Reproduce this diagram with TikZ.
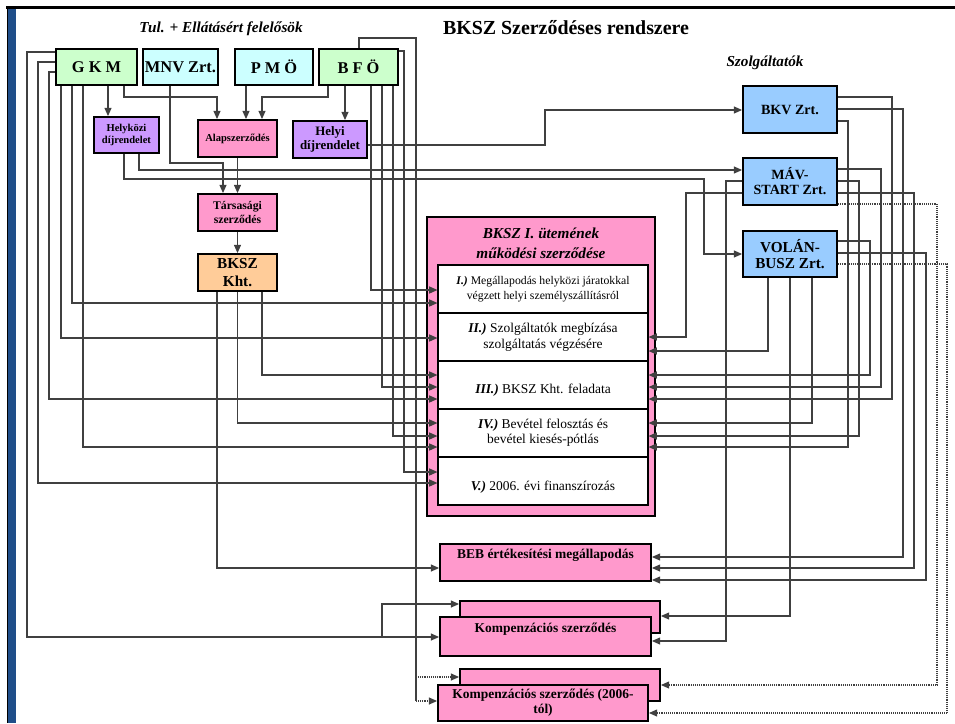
\documentclass[tikz,border=0pt]{standalone}
\usepackage{fontspec}
\setmainfont{Liberation Serif}
\usetikzlibrary{arrows.meta,positioning}

\definecolor{tulgreen}{RGB}{204,255,204}
\definecolor{tulcyan}{RGB}{204,255,255}
\definecolor{rendlila}{RGB}{204,153,255}
\definecolor{szerzpink}{RGB}{255,153,204}
\definecolor{khtorange}{RGB}{255,204,153}
\definecolor{szolgblue}{RGB}{153,204,255}
\definecolor{frameblue}{RGB}{31,78,137}

\newcommand{\pxu}{0.03cm}
\newcommand{\fs}[2]{\fontsize{#1}{#2}\selectfont}

\begin{document}
\begin{tikzpicture}[x=0.03cm, y=-0.03cm,
    >={Triangle[length=7pt,width=6pt]},
    every node/.append style={align=center},
    wh/.style 2 args={minimum width=#1*\pxu, minimum height=#2*\pxu},
    box/.style={draw, line width=1.6pt, inner sep=1pt},
    sec/.style={draw, line width=1pt, fill=white, inner sep=1pt, wh={210}{48}},
    conn/.style={draw=black!75, line width=0.9pt},
    arr/.style={conn, ->},
    pont/.style={dash pattern=on 0.8pt off 0.8pt}]
  \useasboundingbox (0,0) rectangle (955,723);

  % keret
  \fill[frameblue] (8,9) rectangle (16,723);
  \draw[line width=1.4pt] (7.5,6) -- (7.5,723);
  \draw[line width=2.6pt] (6,7.5) -- (955,7.5);

  \node[font=\bfseries\itshape\fs{13}{15}] (tultitle) at (221,29) {Tul. + Ellátásért felelősök};
  \node[font=\bfseries\fs{17}{19}] (title) at (566,28) {BKSZ Szerződéses rendszere};
  \node[font=\bfseries\itshape\fs{13}{15}] (szolgtitle) at (765,63) {Szolgáltatók};

  % tulajdonosok
  \node[box, fill=tulgreen, wh={81}{36}, font=\bfseries\fs{14}{16}] (GKM) at (96.5,67) {G K M};
  \node[box, fill=tulcyan, wh={75}{36}, font=\bfseries\fs{14}{16}] (MNV) at (180.5,67) {MNV Zrt.};
  \node[box, fill=tulcyan, wh={78}{36}, font=\bfseries\fs{14}{16}] (PMO) at (274,67) {P M Ö};
  \node[box, fill=tulgreen, wh={79}{36}, font=\bfseries\fs{14}{16}] (BFO) at (358.5,67) {B F Ö};

  \node[box, fill=rendlila, wh={65}{36}, font=\bfseries\fs{9}{10.5}] (Hkozi) at (126.5,135) {Helyközi\\díjrendelet};
  \node[box, fill=szerzpink, wh={79}{37}, font=\bfseries\fs{9}{11}] (Alap) at (237.5,138.5) {Alapszerződés};
  \node[box, fill=rendlila, wh={74}{37}, font=\bfseries\fs{11}{11.5}] (Helyi) at (330,139.5) {Helyi\\díjrendelet};
  \node[box, fill=szerzpink, wh={79}{37}, font=\bfseries\fs{10}{11.7}] (Tars) at (237.5,212.5) {Társasági\\szerződés};
  \node[box, fill=khtorange, wh={79}{37}, font=\bfseries\fs{13}{15.5}] (Kht) at (237.5,272.5) {BKSZ\\Kht.};

  % szolgaltatok
  \node[box, fill=szolgblue, wh={94}{47}, font=\bfseries\fs{12}{14}] (BKV) at (790,109.5) {BKV Zrt.};
  \node[box, fill=szolgblue, wh={94}{47}, font=\bfseries\fs{12}{12.8}] (MAV) at (790,181.5) {MÁV-\\START Zrt.};
  \node[box, fill=szolgblue, wh={94}{46}, font=\bfseries\fs{13}{14}] (VOLAN) at (790,254) {VOLÁN-\\BUSZ Zrt.};

  % mukodesi szerzodes
  \node[box, fill=szerzpink, wh={228}{299}] (MSZ) at (541,366.5) {};
  \node[font=\bfseries\itshape\fs{13}{17}] (msztitle) at (541,243) {BKSZ I. ütemének\\működési szerződése};
  \node[sec, font=\fs{10}{12.5}] (s1) at (543,289) {\textbf{\textit{I.)}} Megállapodás helyközi járatokkal\\végzett helyi személyszállításról};
  \node[sec, font=\fs{11.5}{13.7}] (s2) at (543,337) {\textbf{\textit{II.)}} Szolgáltatók megbízása\\szolgáltatás végzésére};
  \node[sec, font=\fs{11.5}{13.7}, text height=14pt, text depth=0pt] (s3) at (543,385) {\textbf{\textit{III.)}} BKSZ Kht. feladata};
  \node[sec, font=\fs{11.5}{12.8}] (s4) at (543,433) {\textbf{\textit{IV.)}} Bevétel felosztás és\\bevétel kiesés-pótlás};
  \node[sec, font=\fs{11.5}{13.7}, text height=17pt, text depth=0pt] (s5) at (543,481) {\textbf{\textit{V.)}} 2006. évi finanszírozás};

  % also szerzodesek
  \node[box, fill=szerzpink, wh={211}{37}, font=\bfseries\fs{11.5}{13}, text height=8pt, text depth=14pt] (BEB) at (545.5,562.5) {BEB értékesítési megállapodás};
  \node[box, fill=szerzpink, wh={200}{32}] (Kb) at (560,617) {};
  \node[box, fill=szerzpink, wh={211}{39}, font=\bfseries\fs{11.5}{13}, text height=8pt, text depth=15pt] (Kf) at (545.5,636.5) {Kompenzációs szerződés};
  \node[box, fill=szerzpink, wh={200}{32}] (K2b) at (560,685) {};
  \node[box, fill=szerzpink, wh={210}{36}, font=\bfseries\fs{11.5}{12.8}] (K2f) at (543,703) {Kompenzációs szerződés (2006-\\tól)};

  % felso kapcsolatok
  \draw[arr] (GKM.south -| 108,0) -- (Hkozi.north -| 108,0);
  \draw[arr] (GKM.south -| 124,0) |- (217,97) -- (Alap.north -| 217,0);
  \draw[arr] (PMO.south -| 246,0) -- (Alap.north -| 246,0);
  \draw[arr] (BFO.south -| 328,0) |- (262,97) -- (Alap.north -| 262,0);
  \draw[arr] (BFO.south -| 345,0) -- (Helyi.north -| 345,0);
  \draw[arr] (MNV.south -| 170,0) |- (223,163) -- (Tars.north -| 223,0);
  \draw[arr] (Alap) -- (Tars);
  \draw[arr] (Tars) -- (Kht);
  \draw[arr] (Helyi.east |- 0,145) -| (545,110) -- (BKV.west |- 0,110);
  \draw[arr] (Hkozi.south -| 139,0) |- (MAV.west |- 0,170);
  \draw[arr] (Hkozi.south -| 124,0) |- (704,179) |- (VOLAN.west |- 0,254);

  % GKM
  \draw[arr] (GKM.west |- 0,52) -| (27,637) -- (Kf.west |- 0,637);
  \draw[arr] (382,637) |- (Kb.west |- 0,604);
  \draw[arr] (GKM.west |- 0,62) -| (38,483) -- (s5.west |- 0,483);
  \draw[arr] (GKM.west |- 0,72) -| (49,399) -- (s3.west |- 0,399);
  \draw[arr] (GKM.south -| 61,0) |- (s2.west |- 0,338);
  \draw[arr] (GKM.south -| 72,0) |- (s1.west |- 0,303);
  \draw[arr] (GKM.south -| 83,0) |- (s4.west |- 0,447);

  % BFO
  \draw[arr] (BFO.south -| 371,0) |- (s1.west |- 0,290);
  \draw[arr] (BFO.south -| 382,0) |- (s3.west |- 0,387);
  \draw[arr] (BFO.south -| 393,0) |- (s4.west |- 0,436);
  \draw[arr] (BFO.east |- 0,51) -| (404,472) -- (s5.west |- 0,472);
  \draw[conn] (BFO.north -| 359,0) |- (416,38) -- (416,701);
  \draw[arr, pont] (416,677) -- (K2b.west |- 0,677);
  \draw[arr, pont] (416,701) -- (K2f.west |- 0,701);

  % BKSZ Kht.
  \draw[arr] (Kht.south -| 217,0) |- (BEB.west |- 0,568);
  \draw[arr] (Kht.south) |- (s4.west |- 0,423);
  \draw[arr] (Kht.south -| 262,0) |- (s3.west |- 0,375);

  % BKV
  \draw[arr] (BKV.east |- 0,97) -| (892,399) -- (s3.east |- 0,399);
  \draw[arr] (BKV.east |- 0,109) -| (903,557) -- (BEB.east |- 0,557);
  \draw[arr] (BKV.east |- 0,121) -| (848,447) -- (s4.east |- 0,447);

  % MAV-START
  \draw[arr] (MAV.east |- 0,169) -| (881,387) -- (s3.east |- 0,387);
  \draw[arr] (MAV.east |- 0,181) -| (859,436) -- (s4.east |- 0,436);
  \draw[arr] (MAV.east |- 0,193) -| (914,568) -- (BEB.east |- 0,568);
  \draw[arr, pont] (MAV.east |- 0,204) -| (937,685) -- (K2b.east |- 0,685);
  \draw[arr] (MAV.west |- 0,181) -| (726,641) -- (Kf.east |- 0,641);
  \draw[arr] (MAV.west |- 0,193) -| (686,337) -- (s2.east |- 0,337);

  % VOLAN-BUSZ
  \draw[arr] (VOLAN.east |- 0,241) -| (870,375) -- (s3.east |- 0,375);
  \draw[arr] (VOLAN.east |- 0,253) -| (926,580) -- (BEB.east |- 0,580);
  \draw[arr, pont] (VOLAN.east |- 0,264) -| (947,713) -- (K2f.east |- 0,713);
  \draw[arr] (VOLAN.south -| 768,0) |- (s2.east |- 0,351);
  \draw[arr] (VOLAN.south -| 790,0) |- (Kb.east |- 0,616);
  \draw[arr] (VOLAN.south -| 812,0) |- (s4.east |- 0,423);
\end{tikzpicture}
\end{document}
